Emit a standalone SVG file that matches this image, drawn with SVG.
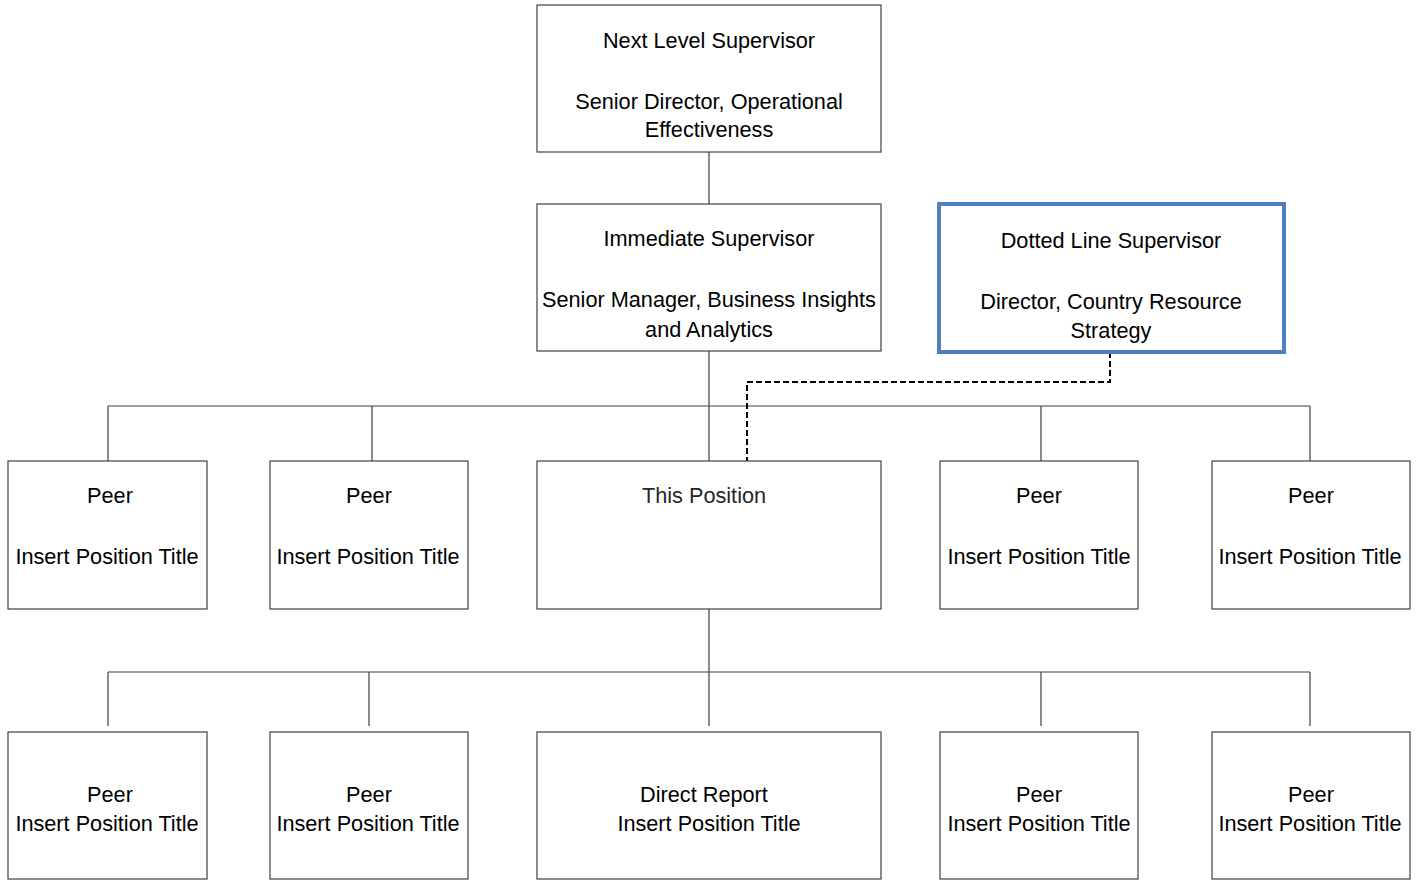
<svg xmlns="http://www.w3.org/2000/svg" width="1421" height="880" viewBox="0 0 1421 880">
<style>
.box{fill:#fff;stroke:#404040;stroke-width:1.2}
.blue{fill:#fff;stroke:#4F7FC0;stroke-width:4}
.ln{fill:none;stroke:#404040;stroke-width:1.2}
.dash{fill:none;stroke:#000;stroke-width:2;stroke-dasharray:6 3}
text{font-family:"Liberation Sans",Arial,sans-serif;font-size:21.7px;fill:#000;text-anchor:middle}
</style>
<rect width="1421" height="880" fill="#fff"/>
<g id="connectors">
<path class="ln" d="M709,152V204M709,351V461M108,406H1310M108,406V461M372,406V461M1041,406V461M1310,406V461"/>
<path class="ln" d="M709,609V726M108,672H1310M108,672V726M369,672V726M1041,672V726M1310,672V726"/>
<path class="dash" d="M1110,352V382H747V461"/>
</g>
<g id="next-level"><rect class="box" x="537" y="5" width="344" height="147"/><text x="709" y="48">Next Level Supervisor</text><text x="709" y="109">Senior Director, Operational</text><text x="709" y="137">Effectiveness</text></g>
<g id="immediate"><rect class="box" x="537" y="204" width="344" height="147"/><text x="709" y="246">Immediate Supervisor</text><text x="709" y="307">Senior Manager, Business Insights</text><text x="709" y="337">and Analytics</text></g>
<g id="dotted"><rect class="blue" x="939" y="204" width="345" height="148"/><text x="1111" y="248">Dotted Line Supervisor</text><text x="1111" y="309">Director, Country Resource</text><text x="1111" y="338">Strategy</text></g>
<g id="peer1"><rect class="box" x="8" y="461" width="199" height="148"/><text x="110" y="503">Peer</text><text x="107" y="564">Insert Position Title</text></g>
<g id="peer2"><rect class="box" x="270" y="461" width="198" height="148"/><text x="369" y="503">Peer</text><text x="368" y="564">Insert Position Title</text></g>
<g id="this"><rect class="box" x="537" y="461" width="344" height="148"/><text x="704" y="503" style="fill:#262626">This Position</text></g>
<g id="peer3"><rect class="box" x="940" y="461" width="198" height="148"/><text x="1039" y="503">Peer</text><text x="1039" y="564">Insert Position Title</text></g>
<g id="peer4"><rect class="box" x="1212" y="461" width="198" height="148"/><text x="1311" y="503">Peer</text><text x="1310" y="564">Insert Position Title</text></g>
<g id="peer5"><rect class="box" x="8" y="732" width="199" height="147"/><text x="110" y="802">Peer</text><text x="107" y="831">Insert Position Title</text></g>
<g id="peer6"><rect class="box" x="270" y="732" width="198" height="147"/><text x="369" y="802">Peer</text><text x="368" y="831">Insert Position Title</text></g>
<g id="direct"><rect class="box" x="537" y="732" width="344" height="147"/><text x="704" y="802">Direct Report</text><text x="709" y="831">Insert Position Title</text></g>
<g id="peer7"><rect class="box" x="940" y="732" width="198" height="147"/><text x="1039" y="802">Peer</text><text x="1039" y="831">Insert Position Title</text></g>
<g id="peer8"><rect class="box" x="1212" y="732" width="198" height="147"/><text x="1311" y="802">Peer</text><text x="1310" y="831">Insert Position Title</text></g>
</svg>
